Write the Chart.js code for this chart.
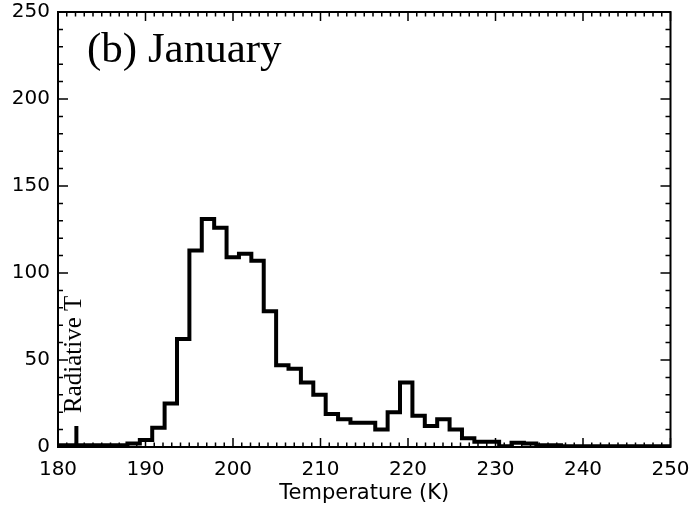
<!DOCTYPE html>
<html>
<head>
<meta charset="utf-8">
<script src="https://cdn.jsdelivr.net/npm/chart.js@4.4.1/dist/chart.umd.min.js"></script>
<style>
  body { margin: 0; background: #fff; }
  #wrap { width: 691px; height: 511px; }
</style>
</head>
<body>
<div id="wrap"><canvas id="chartJanuary" width="691" height="511"></canvas></div>
<script>
// histogram of temperatures, January (bins ~1.4 K wide)
let binStart = 179.44;
let binWidth = 1.416;
let counts = [1, 1, 1, 1, 1, 1, 2, 4, 11, 25,
              62, 113, 131, 126, 109, 111, 107, 78, 47, 45,
              37, 30, 19, 16, 14, 14, 10, 20, 37, 18,
              12, 16, 10, 5, 3, 3, 0.5, 2.5, 2, 1,
              1, 0.5, 0.5, 0.5, 0.5, 0.5, 0.5, 0.5, 0.5, 0.5];
let radiativeT = 182.1;
let radiativeH = 12;
let xTicks = [180, 190, 200, 210, 220, 230, 240, 250];
let yTicks = [0, 50, 100, 150, 200, 250];

Chart.defaults.font.family = 'DejaVu Sans';
Chart.defaults.color = '#000';

let histPoints = [];
for (let i = 0; i < counts.length; i++) {
    histPoints.push({x: binStart + i * binWidth, y: counts[i]});
}
histPoints.push({x: binStart + counts.length * binWidth, y: counts[counts.length - 1]});

// frame, inward ticks on all four sides, and the text inside the plot
const frameTicks = {
    id: 'frameTicks',
    afterDraw(chart) {
        const ctx = chart.ctx;
        const xs = chart.scales.x;
        const ys = chart.scales.y;
        const a = chart.chartArea;
        ctx.save();
        ctx.strokeStyle = '#000';
        ctx.lineWidth = 1.5;
        for (let v = 180; v <= 250; v++) {
            const px = xs.getPixelForValue(v);
            const len = v % 10 === 0 ? 9 : 4.5;
            ctx.beginPath();
            ctx.moveTo(px, a.bottom); ctx.lineTo(px, a.bottom - len);
            ctx.moveTo(px, a.top); ctx.lineTo(px, a.top + len);
            ctx.stroke();
        }
        for (let v = 0; v <= 250; v += 10) {
            const py = ys.getPixelForValue(v);
            const len = v % 50 === 0 ? 10 : 5;
            ctx.beginPath();
            ctx.moveTo(a.left, py); ctx.lineTo(a.left + len, py);
            ctx.moveTo(a.right, py); ctx.lineTo(a.right - len, py);
            ctx.stroke();
        }
        ctx.lineWidth = 2;
        ctx.strokeRect(a.left, a.top, a.right - a.left, a.bottom - a.top);

        ctx.fillStyle = '#000';
        ctx.font = '43px "Liberation Serif"';
        ctx.textAlign = 'left';
        ctx.textBaseline = 'alphabetic';
        ctx.fillText('(b) January', 87, 62);

        ctx.translate(xs.getPixelForValue(radiativeT) - 2, 413);
        ctx.rotate(-Math.PI / 2);
        ctx.font = '25px "Liberation Serif"';
        ctx.textBaseline = 'middle';
        ctx.fillText('Radiative T', 0, 0);
        ctx.restore();
    }
};

const ctx = document.getElementById('chartJanuary').getContext('2d');

new Chart(ctx, {
    type: 'line',
    data: {
        datasets: [{
            label: 'January',
            data: histPoints,
            stepped: 'before',
            borderColor: '#000',
            borderWidth: 4,
            borderJoinStyle: 'miter',
            pointRadius: 0,
            fill: false
        }, {
            label: 'Radiative T',
            data: [{x: radiativeT, y: 0}, {x: radiativeT, y: radiativeH}],
            borderColor: '#000',
            borderWidth: 4,
            pointRadius: 0
        }]
    },
    options: {
        responsive: false,
        animation: false,
        layout: { padding: { top: 12, right: 20.5, left: 0, bottom: 0 } },
        plugins: {
            legend: { display: false },
            tooltip: { enabled: false }
        },
        scales: {
            x: {
                type: 'linear',
                min: 180,
                max: 250,
                afterBuildTicks: (s) => { s.ticks = xTicks.map(v => ({value: v})); },
                ticks: { font: { size: 20 }, padding: 11, maxRotation: 0 },
                grid: { display: false, drawTicks: false },
                border: { display: false },
                title: { display: true, text: 'Temperature (K)', font: { size: 21 }, padding: { top: 0, bottom: 5 } },
                afterFit: (s) => { s.height = 64; s.paddingLeft = 0; s.paddingRight = 0; }
            },
            y: {
                type: 'linear',
                min: 0,
                max: 250,
                afterBuildTicks: (s) => { s.ticks = yTicks.map(v => ({value: v})); },
                ticks: { font: { size: 20 }, padding: 8 },
                grid: { display: false, drawTicks: false },
                border: { display: false },
                afterFit: (s) => { s.width = 58; s.paddingTop = 0; s.paddingBottom = 0; }
            }
        }
    },
    plugins: [frameTicks]
});
</script>
</body>
</html>
